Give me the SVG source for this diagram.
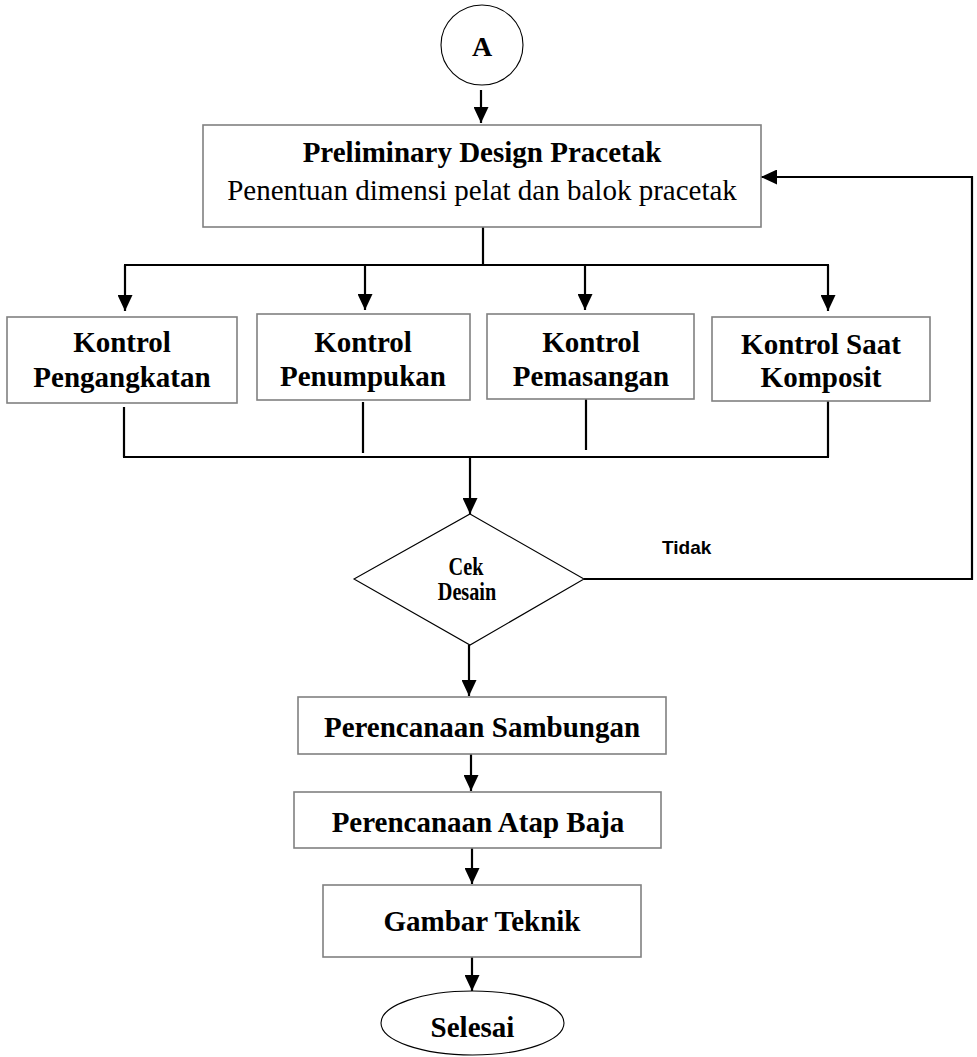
<svg xmlns="http://www.w3.org/2000/svg" width="977" height="1057" viewBox="0 0 977 1057">
  <defs>
    <marker id="arrow" markerWidth="16" markerHeight="15" refX="16" refY="7.5" orient="auto" markerUnits="userSpaceOnUse">
      <path d="M0,0 L16,7.5 L0,15 Z" fill="#000"/>
    </marker>
    <style>
      .box { fill: #fff; stroke: #808080; stroke-width: 1.6; }
      .outline { fill: #fff; stroke: #000; stroke-width: 1.1; }
      .lbl { font-family: "Liberation Serif", "Times New Roman", serif; font-size: 29px; font-weight: bold; fill: #000; text-anchor: middle; }
      .reg { font-family: "Liberation Serif", "Times New Roman", serif; font-size: 29px; fill: #000; text-anchor: middle; }
      .wire { fill: none; stroke: #000; stroke-width: 2.2; }
      .arrowed { marker-end: url(#arrow); }
      .note { font-family: "Liberation Sans", Arial, sans-serif; font-size: 19px; font-weight: bold; fill: #000; }
    </style>
  </defs>

  <rect width="977" height="1057" fill="#fff"/>

  <!-- connectors -->
  <g id="connectors">
    <line class="wire arrowed" x1="481" y1="90" x2="481" y2="123"/>
    <!-- split to the four checks -->
    <line class="wire" x1="483" y1="227" x2="483" y2="265"/>
    <line class="wire" x1="124" y1="265" x2="829" y2="265"/>
    <line class="wire arrowed" x1="125" y1="265" x2="125" y2="311"/>
    <line class="wire arrowed" x1="365" y1="265" x2="365" y2="310"/>
    <line class="wire arrowed" x1="585" y1="265" x2="585" y2="310"/>
    <line class="wire arrowed" x1="828" y1="265" x2="828" y2="311"/>
    <!-- merge back -->
    <line class="wire" x1="124" y1="407" x2="124" y2="457"/>
    <line class="wire" x1="363" y1="402" x2="363" y2="453"/>
    <line class="wire" x1="586" y1="399" x2="586" y2="450"/>
    <line class="wire" x1="828" y1="401" x2="828" y2="457"/>
    <line class="wire" x1="123" y1="457" x2="829" y2="457"/>
    <line class="wire arrowed" x1="470" y1="457" x2="470" y2="514"/>
    <!-- rejected design loops back -->
    <polyline class="wire arrowed" points="584,579 972,579 972,177 761,177"/>
    <!-- main sequence -->
    <line class="wire arrowed" x1="469" y1="645" x2="469" y2="696"/>
    <line class="wire arrowed" x1="471" y1="754" x2="471" y2="791"/>
    <line class="wire arrowed" x1="472" y1="848" x2="472" y2="884"/>
    <line class="wire arrowed" x1="472" y1="957" x2="472" y2="991"/>
    <text class="note" x="662" y="554">Tidak</text>
  </g>

  <g id="start">
    <ellipse class="outline" cx="482" cy="45" rx="41" ry="40"/>
    <text class="lbl" x="482" y="56" style="font-size:28px">A</text>
  </g>

  <g id="preliminary">
    <rect class="box" x="203" y="125" width="558" height="102"/>
    <text class="lbl" x="482" y="162">Preliminary Design Pracetak</text>
    <text class="reg" x="482" y="200">Penentuan dimensi pelat dan balok pracetak</text>
  </g>

  <g id="pengangkatan">
    <rect class="box" x="7" y="317" width="230" height="86"/>
    <text class="lbl" x="122" y="352">Kontrol</text>
    <text class="lbl" x="122" y="387">Pengangkatan</text>
  </g>

  <g id="penumpukan">
    <rect class="box" x="257" y="314" width="213" height="86"/>
    <text class="lbl" x="363" y="352">Kontrol</text>
    <text class="lbl" x="363" y="386">Penumpukan</text>
  </g>

  <g id="pemasangan">
    <rect class="box" x="487" y="314" width="207" height="85"/>
    <text class="lbl" x="591" y="352">Kontrol</text>
    <text class="lbl" x="591" y="386">Pemasangan</text>
  </g>

  <g id="komposit">
    <rect class="box" x="712" y="317" width="218" height="84"/>
    <text class="lbl" x="821" y="354">Kontrol Saat</text>
    <text class="lbl" x="821" y="387">Komposit</text>
  </g>

  <g id="cek-desain">
    <polygon class="outline" points="470,514 584,579 470,645 354,579"/>
    <text class="lbl" style="font-size:22px" transform="translate(466,575) scale(0.92,1.15)">Cek</text>
    <text class="lbl" style="font-size:22px" transform="translate(467,600) scale(0.92,1.15)">Desain</text>
  </g>

  <g id="sambungan">
    <rect class="box" x="298" y="697" width="368" height="57"/>
    <text class="lbl" x="482" y="737">Perencanaan Sambungan</text>
  </g>

  <g id="atap-baja">
    <rect class="box" x="294" y="792" width="367" height="56"/>
    <text class="lbl" x="478" y="832">Perencanaan Atap Baja</text>
  </g>

  <g id="gambar-teknik">
    <rect class="box" x="323" y="885" width="318" height="72"/>
    <text class="lbl" x="482" y="931">Gambar Teknik</text>
  </g>

  <g id="selesai">
    <ellipse class="outline" cx="472.5" cy="1023" rx="91.5" ry="32"/>
    <text class="lbl" x="472.5" y="1037">Selesai</text>
  </g>
</svg>
